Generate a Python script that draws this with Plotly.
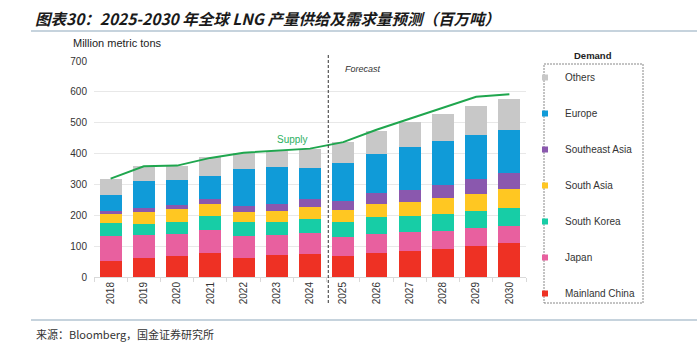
import plotly.graph_objects as go

years = ["2018", "2019", "2020", "2021", "2022", "2023", "2024",
         "2025", "2026", "2027", "2028", "2029", "2030"]

mainland_china = [53, 62, 67, 78, 63, 70, 76, 67, 78, 83, 90, 99, 109]
japan = [79, 73, 71, 73, 70, 65, 66, 63, 61, 62, 60, 59, 55]
south_korea = [42, 38, 41, 46, 46, 44, 45, 48, 54, 53, 54, 56, 60]
south_asia = [29, 38, 40, 38, 32, 34, 40, 38, 44, 46, 51, 54, 60]
southeast_asia = [12, 14, 13, 17, 18, 24, 27, 30, 35, 38, 44, 49, 53]
europe = [50, 85, 81, 75, 122, 121, 99, 125, 128, 140, 143, 144, 140]
others = [54, 50, 48, 61, 52, 51, 63, 65, 73, 80, 86, 92, 100]

supply = [319, 359, 361, 386, 403, 410, 416, 437, 477, 513, 548, 584, 592]

series = [
    ("Mainland China", mainland_china, "#EE3124"),
    ("Japan", japan, "#E8609F"),
    ("South Korea", south_korea, "#17CDA6"),
    ("South Asia", south_asia, "#FFC722"),
    ("Southeast Asia", southeast_asia, "#8A58AE"),
    ("Europe", europe, "#109BD8"),
    ("Others", others, "#C8C8C8"),
]

FONT = "Liberation Sans, Arial, sans-serif"
CJK = "Noto Sans CJK SC"

fig = go.Figure()
for name, vals, col in series:
    fig.add_trace(go.Bar(x=years, y=vals, name=name, marker_color=col,
                         marker_line_width=0, showlegend=False))

fig.add_trace(go.Scatter(x=years, y=supply, mode="lines", name="Supply",
                         line=dict(color="#1FA64E", width=2), showlegend=False))

# legend entries (top to bottom: Others ... Mainland China)
for i, (name, vals, col) in enumerate(reversed(series)):
    fig.add_trace(go.Scatter(x=[None], y=[None], mode="markers", name=name,
                             marker=dict(symbol="square", size=6, color=col),
                             legendgroup="g%d" % i, showlegend=True))

W, H = 697, 349
L, R, T, B = 94, 171, 61, 72
pw, ph = W - L - R, H - T - B


def px(x):
    return (x - L) / pw


def py(y):
    return (H - B - y) / ph


fig.update_layout(
    width=W, height=H,
    margin=dict(l=L, r=R, t=T, b=B),
    paper_bgcolor="white", plot_bgcolor="white",
    barmode="stack", bargap=0.34,
    font=dict(family=FONT, size=10, color="#333333"),
    showlegend=True,
    legend=dict(x=px(525), xanchor="left", y=py(63), yanchor="top",
                traceorder="grouped", tracegroupgap=17, maxheight=600,
                font=dict(family=FONT, size=10, color="#333333"),
                bgcolor="rgba(0,0,0,0)", borderwidth=0, itemwidth=30),
    xaxis=dict(type="category", tickangle=-90, showgrid=False,
               showline=True, linecolor="#D9D9D9", linewidth=1,
               ticks="outside", tickson="boundaries", ticklen=4, tickcolor="#D9D9D9",
               tickfont=dict(family=FONT, size=10, color="#333333"),
               range=[-0.5, 12.5]),
    yaxis=dict(range=[0, 700], dtick=100, showgrid=True, gridcolor="#E8E8E8",
               gridwidth=1, zeroline=False, showline=False,
               ticks="outside", ticklen=4, tickcolor="rgba(0,0,0,0)",
               tickfont=dict(family=FONT, size=10, color="#333333")),
    shapes=[
        dict(type="line", xref="x", yref="paper", x0=6.55, x1=6.55,
             y0=py(303), y1=py(55), line=dict(color="#333333", width=1, dash="3px,2px")),
        dict(type="rect", xref="paper", yref="paper", x0=px(544), x1=px(643),
             y0=py(303), y1=py(64), line=dict(color="#888888", width=1, dash="2px,1px")),
        dict(type="line", xref="paper", yref="paper", x0=px(31), x1=px(697),
             y0=py(31), y1=py(31), line=dict(color="#8EA7BC", width=1.2)),
        dict(type="line", xref="paper", yref="paper", x0=px(31), x1=px(697),
             y0=py(320), y1=py(320), line=dict(color="#8EA7BC", width=1.2)),
    ],
    annotations=[
        dict(text="<b><i>图表30：2025-2030 年全球 LNG 产量供给及需求量预测（百万吨）</i></b>",
             xref="paper", yref="paper", x=px(33), y=py(18), xanchor="left", yanchor="middle",
             showarrow=False, font=dict(family=CJK, size=15.5, color="#1a1a1a")),
        dict(text="来源：Bloomberg，国金证券研究所", xref="paper", yref="paper",
             x=px(34), y=py(334), xanchor="left", yanchor="middle", showarrow=False,
             font=dict(family=CJK, size=11, color="#333333")),
        dict(text="Million metric tons", xref="paper", yref="paper", x=px(71), y=py(43),
             xanchor="left", yanchor="middle", showarrow=False,
             font=dict(family=FONT, size=11, color="#222222")),
        dict(text="<i>Forecast</i>", xref="x", yref="y", x=7.59, y=674,
             xanchor="center", yanchor="middle", showarrow=False,
             font=dict(family=FONT, size=9, color="#333333")),
        dict(text="Supply", xref="x", yref="y", x=5.48, y=444,
             xanchor="center", yanchor="middle", showarrow=False,
             font=dict(family=FONT, size=10, color="#2DB062")),
        dict(text="<b>Demand</b>", xref="paper", yref="paper", x=px(593), y=py(55),
             xanchor="center", yanchor="middle", showarrow=False,
             font=dict(family=FONT, size=9.5, color="#222222")),
    ],
)

fig.write_html("out.html")
